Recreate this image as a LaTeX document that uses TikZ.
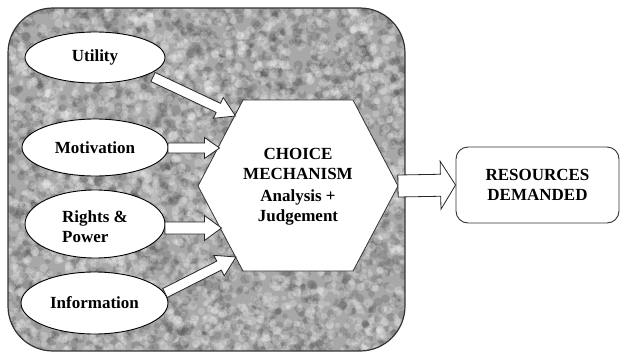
\documentclass[tikz,border=0pt]{standalone}
\usepackage{fontspec}
\setmainfont{Liberation Serif}
\usetikzlibrary{calc,shapes.geometric}

% block arrow: start, tip, shaft half-width, head half-width, head length
\newcommand\blockarrow[5]{%
  \draw[blockarrow]
    ($(#1)!#3!90:(#2)$) --
    ($(#2)!#5!(#1)!#3!-90:(#1)$) --
    ($(#2)!#5!(#1)!#4!-90:(#1)$) --
    (#2) --
    ($(#2)!#5!(#1)!#4!90:(#1)$) --
    ($(#2)!#5!(#1)!#3!90:(#1)$) --
    ($(#1)!#3!-90:(#2)$) -- cycle;}

\tikzset{
  lbl/.style={font=\fontsize{17}{20}\selectfont\bfseries, text=black, align=center},
  factor/.style={ellipse, draw=black, line width=0.9pt, fill=white, inner sep=0pt},
  blockarrow/.style={draw=black!85, line width=0.8pt, fill=white, line join=miter},
  hexline/.style={draw=black!80, line width=0.8pt, fill=white},
  outbox/.style={draw=black!80, line width=0.9pt, fill=white, rounded corners=12pt},
  stone/.style={draw=black!80, line width=1.2pt, rounded corners=45pt},
}

\begin{document}
\begin{tikzpicture}[x=1pt,y=-1pt]
\useasboundingbox (0,0) rectangle (622,354);

% speckled stone panel: soft overlapping dark and light flecks
\pgfmathsetseed{4242}
\begin{scope}
  \clip[rounded corners=45pt] (8,8) rectangle (405,351);
  \fill[black!34] (8,8) rectangle (405,351);
  \foreach \i in {1,...,2600}{
    \pgfmathsetmacro\px{8+397*rnd}
    \pgfmathsetmacro\py{8+343*rnd}
    \pgfmathsetmacro\pr{2+3*rnd}
    \fill[black!75, opacity=0.2] (\px,\py) circle[radius=\pr];
  }
  \foreach \i in {1,...,2600}{
    \pgfmathsetmacro\px{8+397*rnd}
    \pgfmathsetmacro\py{8+343*rnd}
    \pgfmathsetmacro\pr{2+3*rnd}
    \fill[white, opacity=0.22] (\px,\py) circle[radius=\pr];
  }
\end{scope}
\draw[stone] (8,8) rectangle (405,351);

% factors
\node[factor, minimum width=140pt, minimum height=51pt, lbl] (utility) at (95,57.5) {Utility};
\node[factor, minimum width=146pt, minimum height=57pt, lbl] (motivation) at (95,147.5) {Motivation};
\node[factor, minimum width=140pt, minimum height=68pt] (rights) at (95,224) {};
\node[lbl, align=left] (rightslbl) at (95,227) {Rights \&\\Power};
\node[factor, minimum width=147pt, minimum height=62pt, lbl] (information) at (94.5,303) {Information};

% choice mechanism
\draw[hexline] (198,186) -- (243,100) -- (353,100) -- (398,186) -- (353,271) -- (243,271) -- cycle;
\node[lbl] (choice) at (298,187) {CHOICE\\MECHANISM\\[2pt]Analysis +\\Judgement};

% resources demanded
\node[outbox, minimum width=163pt, minimum height=76pt, lbl] (resources) at (537.5,185) {RESOURCES\\DEMANDED};

% arrow end points
\coordinate (u1) at (153,77);   \coordinate (u2) at (235.5,116);
\coordinate (m1) at (168,148);  \coordinate (m2) at (219.5,148);
\coordinate (r1) at (165,228);  \coordinate (r2) at (221.5,228);
\coordinate (i1) at (165,293);  \coordinate (i2) at (236,257);
\coordinate (o1) at (398,186);  \coordinate (o2) at (resources.west);

\blockarrow{u1}{u2}{5pt}{11.5pt}{19pt}
\blockarrow{m1}{m2}{5pt}{10.5pt}{15pt}
\blockarrow{r1}{r2}{6pt}{12.5pt}{17pt}
\blockarrow{i1}{i2}{5pt}{11.5pt}{19pt}
\blockarrow{o1}{o2}{11pt}{24pt}{15pt}
\end{tikzpicture}
\end{document}
